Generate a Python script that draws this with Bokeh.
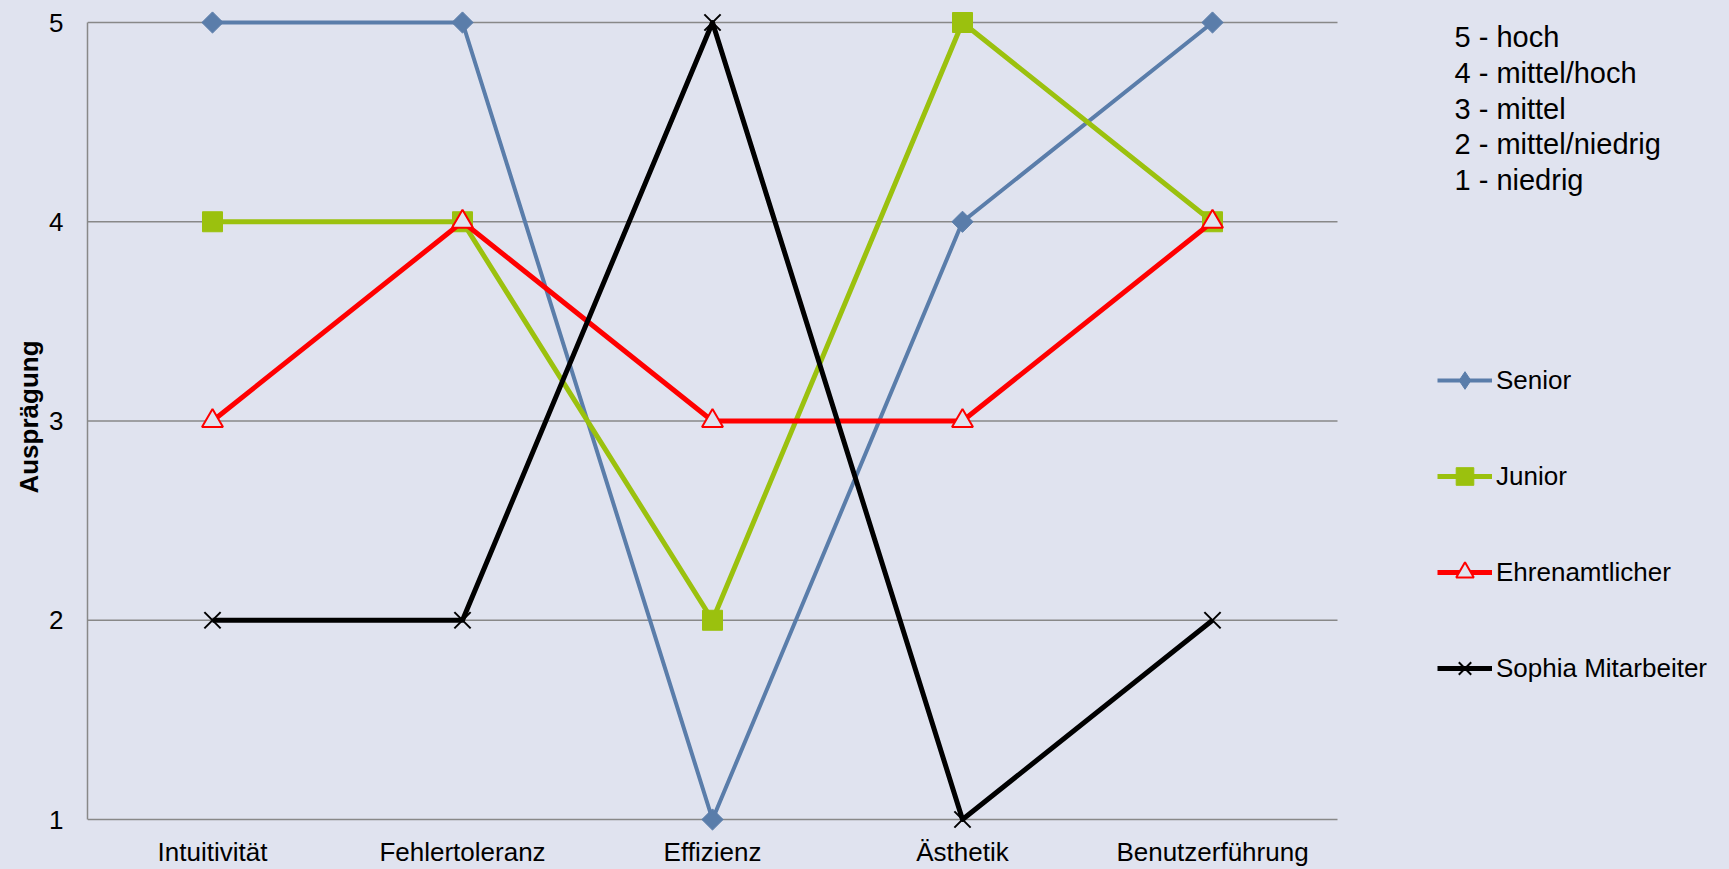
import math
from bokeh.plotting import figure
from bokeh.models import (Range1d, FixedTicker, Legend, LegendItem,
                          Label, ColumnDataSource)
from bokeh.embed import file_html
from bokeh.resources import INLINE

# ---------------- data ----------------
categories = ["Intuitivität", "Fehlertoleranz", "Effizienz", "Ästhetik", "Benutzerführung"]
senior = [5, 5, 1, 4, 5]
junior = [4, 4, 2, 5, 4]
ehrenamtlicher = [3, 4, 3, 3, 4]
sophia = [2, 2, 5, 1, 2]
series_names = ["Senior", "Junior", "Ehrenamtlicher", "Sophia Mitarbeiter"]
y_ticks = [1, 2, 3, 4, 5]
scale_notes = ["5 - hoch", "4 - mittel/hoch", "3 - mittel", "2 - mittel/niedrig", "1 - niedrig"]
y_axis_title = "Ausprägung"

# ---------------- style / layout ----------------
BG = "#E0E3EF"
GRID = "#888888"
FONT = "Liberation Sans"
FS = "26px"
W, H = 1729, 869
LEFT, BOTTOM = 87, 36           # frame borders in px
PX_X = 250.0                    # px per category
Y5, Y1 = 22.0, 819.0            # screen y of values 5 and 1
PX_Y = (Y1 - Y5) / (y_ticks[-1] - y_ticks[0])
frame_bottom = H - BOTTOM

x_idx = list(range(len(categories)))
x_start = -0.5
x_end = x_start + (W - LEFT) / PX_X
y_end = y_ticks[-1] + Y5 / PX_Y
y_start = y_ticks[0] - (frame_bottom - Y1) / PX_Y


def y_at(screen_y):
    """data y for a given screen y (px from the top)"""
    return y_ticks[-1] - (screen_y - Y5) / PX_Y


p = figure(width=W, height=H,
           x_range=Range1d(x_start, x_end),
           y_range=Range1d(y_start, y_end),
           output_backend="svg", toolbar_location=None,
           min_border_left=LEFT, min_border_right=0,
           min_border_top=0, min_border_bottom=BOTTOM,
           background_fill_color=BG, border_fill_color=BG,
           outline_line_color=None)

p.xgrid.visible = False
p.ygrid.visible = False

# horizontal gridlines across the category area only
n = len(categories)
p.segment(x0=[x_start] * len(y_ticks), x1=[n - 0.5] * len(y_ticks),
          y0=y_ticks, y1=y_ticks, line_color=GRID, line_width=1.5)

p.yaxis.ticker = FixedTicker(ticks=y_ticks)
p.yaxis.bounds = (y_ticks[0], y_ticks[-1])
p.yaxis.axis_line_color = GRID
p.yaxis.axis_line_width = 1.5
p.yaxis.major_tick_line_color = None
p.yaxis.minor_tick_line_color = None
p.yaxis.major_tick_out = 0
p.yaxis.major_label_standoff = 24
p.yaxis.major_label_text_font = FONT
p.yaxis.major_label_text_font_size = FS
p.yaxis.major_label_text_color = "black"
p.yaxis.axis_label = y_axis_title
p.yaxis.axis_label_text_font = FONT
p.yaxis.axis_label_text_font_size = FS
p.yaxis.axis_label_text_font_style = "bold"
p.yaxis.axis_label_text_color = "black"
p.yaxis.axis_label_standoff = 2

p.xaxis.ticker = FixedTicker(ticks=x_idx)
p.xaxis.major_label_overrides = {i: c for i, c in zip(x_idx, categories)}
p.xaxis.axis_line_color = None
p.xaxis.major_tick_line_color = None
p.xaxis.minor_tick_line_color = None
p.xaxis.major_tick_out = 0
p.xaxis.major_label_standoff = 3
p.xaxis.major_label_text_font = FONT
p.xaxis.major_label_text_font_size = FS
p.xaxis.major_label_text_color = "black"

series_values = [senior, junior, ehrenamtlicher, sophia]
styles = [
    dict(color="#5A7DAA", lw=4, marker="square", size=15, angle=math.pi / 4,
         fill="#5A7DAA", mlw=1, legend_marker="diamond"),
    dict(color="#9BC10E", lw=5, marker="square", size=20, angle=0,
         fill="#9BC10E", mlw=1, legend_marker=None),
    dict(color="#FF0000", lw=5, marker="triangle", size=21, angle=0,
         fill=BG, mlw=2, legend_marker=None),
    dict(color="#000000", lw=5, marker="x", size=23, angle=0,
         fill=None, mlw=2, legend_marker=None),
]

items = []
for name, vals, st in zip(series_names, series_values, styles):
    src = ColumnDataSource(dict(x=x_idx, y=vals))
    ln = p.line("x", "y", source=src, line_color=st["color"], line_width=st["lw"],
                line_join="round")
    legend_r = None
    if st["legend_marker"]:
        # diamond symbol for the legend (legend symbols are drawn unrotated);
        # in the chart it lies fully under the rotated square of the same colour
        legend_r = p.scatter("x", "y", source=src, marker=st["legend_marker"],
                             size=15, fill_color=st["fill"],
                             line_color=st["color"], line_width=st["mlw"])
    sc = p.scatter("x", "y", source=src, marker=st["marker"], size=st["size"],
                   angle=st["angle"], fill_color=st["fill"],
                   line_color=st["color"], line_width=st["mlw"])
    items.append(LegendItem(label=name, renderers=[ln, legend_r or sc]))

# legend: first item centred at screen y 380, pitch 96 px
GH, SP = 44, 52
legend_top = 380 - GH / 2
legend_bottom = legend_top + len(items) * GH + (len(items) - 1) * SP
legend = Legend(items=items, location=(1437 - LEFT, frame_bottom - legend_bottom),
                orientation="vertical",
                glyph_width=55, glyph_height=GH, label_height=GH, spacing=SP,
                padding=0, margin=0, label_standoff=4,
                label_text_font=FONT, label_text_font_size=FS,
                label_text_color="black",
                border_line_color=None, background_fill_alpha=0)
p.add_layout(legend)

# scale explanation text (top right): line centres at 36.5 px + 35.8 px steps
for i, note in enumerate(scale_notes):
    p.add_layout(Label(x=1454 - LEFT, y=y_at(36.5 + 35.8 * i),
                       x_units="screen", y_units="data",
                       text=note, text_font=FONT, text_font_size="29px",
                       text_color="black", text_baseline="middle",
                       text_align="left"))

html = file_html(p, INLINE)
html = html.replace("</head>", "<style>html,body{background:%s;}</style></head>" % BG, 1)
open("out.html", "w").write(html)
